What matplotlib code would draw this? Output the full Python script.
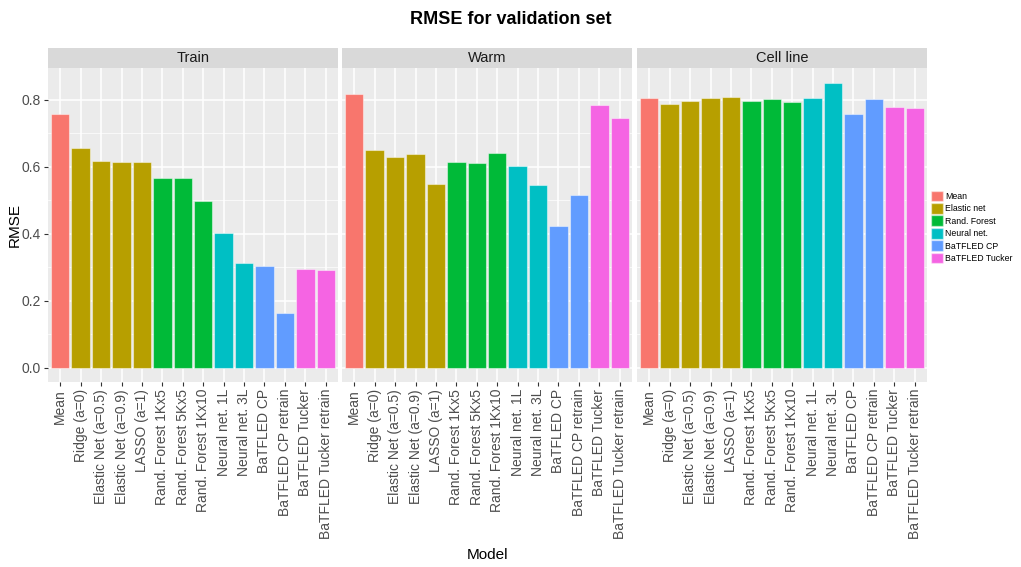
import matplotlib.pyplot as plt
from matplotlib.patches import Patch

plt.rcParams['font.family'] = ['Liberation Sans', 'DejaVu Sans']

models = ["Mean", "Ridge (a=0)", "Elastic Net (a=0.5)", "Elastic Net (a=0.9)",
          "LASSO (a=1)", "Rand. Forest 1Kx5", "Rand. Forest 5Kx5", "Rand. Forest 1Kx10",
          "Neural net. 1L", "Neural net. 3L", "BaTFLED CP", "BaTFLED CP retrain",
          "BaTFLED Tucker", "BaTFLED Tucker retrain"]
groups = ["Mean", "Elastic net", "Elastic net", "Elastic net", "Elastic net",
          "Rand. Forest", "Rand. Forest", "Rand. Forest", "Neural net.", "Neural net.",
          "BaTFLED CP", "BaTFLED CP", "BaTFLED Tucker", "BaTFLED Tucker"]
group_names = ["Mean", "Elastic net", "Rand. Forest", "Neural net.", "BaTFLED CP", "BaTFLED Tucker"]
group_colors = ["#F8766D", "#B79F00", "#00BA38", "#00BFC4", "#619CFF", "#F564E3"]

panels = ["Train", "Warm", "Cell line"]
train = [0.758, 0.656, 0.616, 0.614, 0.614, 0.567, 0.567, 0.498, 0.401, 0.313, 0.304, 0.162, 0.295, 0.293]
warm = [0.818, 0.649, 0.629, 0.639, 0.550, 0.614, 0.610, 0.641, 0.603, 0.546, 0.423, 0.516, 0.785, 0.747]
cell_line = [0.806, 0.786, 0.795, 0.806, 0.808, 0.797, 0.802, 0.793, 0.806, 0.851, 0.759, 0.802, 0.779, 0.776]
values = [train, warm, cell_line]

color_of = dict(zip(group_names, group_colors))
bar_colors = [color_of[g] for g in groups]

fig = plt.figure(figsize=(10.21, 5.67), dpi=100)
W, H = 1021, 567
lefts = [48, 342, 637]
pw = 290
top_px, bot_px = 68, 382
strip_h = 20

axes = []
for i, (name, vals) in enumerate(zip(panels, values)):
    ax = fig.add_axes([lefts[i] / W, 1 - bot_px / H, pw / W, (bot_px - top_px) / H],
                      sharey=axes[0] if axes else None)
    axes.append(ax)
    ax.set_facecolor("#EBEBEB")
    x = range(len(models))
    ax.bar(x, vals, width=0.9, color=bar_colors, edgecolor=(1, 1, 1, 0.45), linewidth=0.8, zorder=3)
    ax.set_xlim(-0.6, len(models) - 0.4)
    ax.set_ylim(-0.0427, 0.895)
    ax.set_yticks([0.0, 0.2, 0.4, 0.6, 0.8])
    ax.set_yticks([0.1, 0.3, 0.5, 0.7], minor=True)
    ax.grid(True, which="major", color="white", linewidth=1.1, zorder=0)
    ax.grid(True, which="minor", axis="y", color="white", linewidth=0.5, zorder=0)
    ax.set_axisbelow(True)
    ax.set_xticks(list(x))
    ax.set_xticklabels(models, rotation=90, fontsize=10, color="#4D4D4D")
    ax.tick_params(axis="both", which="major", length=3, color="#333333", labelcolor="#4D4D4D", pad=2)
    ax.tick_params(axis="y", which="minor", length=0)
    ax.tick_params(axis="y", labelsize=10)
    for s in ax.spines.values():
        s.set_visible(False)
    if i > 0:
        ax.tick_params(axis="y", which="both", left=False, labelleft=False)
    else:
        ax.set_yticklabels(["0.0", "0.2", "0.4", "0.6", "0.8"])
    sax = fig.add_axes([lefts[i] / W, 1 - top_px / H, pw / W, strip_h / H])
    sax.set_facecolor("#D9D9D9")
    sax.set_xticks([])
    sax.set_yticks([])
    for s in sax.spines.values():
        s.set_visible(False)
    sax.text(0.5, 0.5, name, ha="center", va="center", fontsize=10.5, color="#1A1A1A",
             transform=sax.transAxes)

fig.text(0.5, 1 - 20 / H, "RMSE for validation set", ha="center", va="center",
         fontsize=13, fontweight="bold")
fig.text(15 / W, 1 - 225 / H, "RMSE", rotation=90, ha="center", va="center", fontsize=11)
fig.text((48 + 927) / 2 / W, 1 - 555 / H, "Model", ha="center", va="center", fontsize=11)

handles = [Patch(facecolor=c, edgecolor=(1, 1, 1, 0.45), label=g) for g, c in zip(group_names, group_colors)]
fig.legend(handles=handles, loc="center left", bbox_to_anchor=(931 / W, 1 - 227 / H),
           frameon=False, fontsize=6.3, handlelength=1.4, handleheight=1.5,
           handletextpad=0.25, labelspacing=0.2, borderaxespad=0, borderpad=0)

fig.savefig("out.png", dpi=100)
